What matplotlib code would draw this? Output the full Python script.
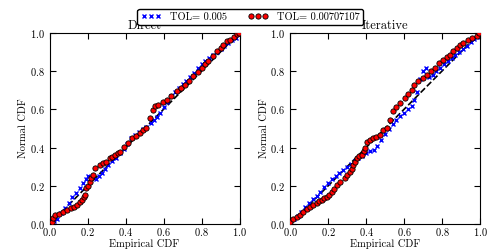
import matplotlib
matplotlib.use('Agg')
import matplotlib.pyplot as plt

# P-P plot data (empirical CDF vs normal CDF)
direct_red_x = [0.011, 0.02, 0.029, 0.05, 0.073, 0.09, 0.112, 0.13, 0.143, 0.16,
                0.17, 0.18, 0.187, 0.192, 0.2, 0.213, 0.22, 0.23, 0.24, 0.266,
                0.28, 0.297, 0.318, 0.33, 0.345, 0.36, 0.371, 0.392, 0.415, 0.433,
                0.455, 0.477, 0.494, 0.51, 0.529, 0.545, 0.555, 0.573, 0.595, 0.617,
                0.64, 0.669, 0.69, 0.713, 0.735, 0.757, 0.78, 0.801, 0.82, 0.836,
                0.86, 0.88, 0.9, 0.915, 0.935, 0.95, 0.97, 0.985, 0.995]
direct_red_y = [0.014, 0.035, 0.049, 0.055, 0.063, 0.072, 0.083, 0.092, 0.10, 0.115,
                0.127, 0.14, 0.153, 0.188, 0.20, 0.222, 0.24, 0.257, 0.292, 0.31,
                0.318, 0.327, 0.345, 0.352, 0.362, 0.37, 0.379, 0.405, 0.422, 0.448,
                0.46, 0.475, 0.49, 0.503, 0.555, 0.598, 0.616, 0.625, 0.64, 0.651,
                0.672, 0.695, 0.71, 0.729, 0.75, 0.773, 0.795, 0.816, 0.835, 0.851,
                0.878, 0.903, 0.92, 0.938, 0.955, 0.964, 0.98, 0.994, 0.998]

direct_blue_x = [0.01, 0.025, 0.04, 0.06, 0.08, 0.1, 0.12, 0.14, 0.16, 0.175,
                 0.19, 0.2, 0.245, 0.26, 0.275, 0.29, 0.31, 0.33, 0.35, 0.37,
                 0.39, 0.41, 0.43, 0.45, 0.47, 0.49, 0.51, 0.535, 0.55, 0.565,
                 0.58, 0.6, 0.62, 0.64, 0.66, 0.68, 0.7, 0.72, 0.74, 0.76,
                 0.78, 0.8, 0.82, 0.84, 0.86, 0.88, 0.9, 0.92, 0.94, 0.96,
                 0.98, 0.995]
direct_blue_y = [0.01, 0.015, 0.03, 0.06, 0.085, 0.11, 0.14, 0.165, 0.19, 0.215,
                 0.235, 0.25, 0.235, 0.25, 0.27, 0.29, 0.31, 0.33, 0.345, 0.37,
                 0.395, 0.42, 0.45, 0.465, 0.48, 0.495, 0.51, 0.53, 0.545, 0.56,
                 0.58, 0.61, 0.64, 0.67, 0.69, 0.71, 0.73, 0.75, 0.77, 0.79,
                 0.815, 0.835, 0.855, 0.87, 0.885, 0.9, 0.915, 0.93, 0.945, 0.96,
                 0.975, 0.995]

iter_red_x = [0.0, 0.015, 0.035, 0.05, 0.07, 0.09, 0.105, 0.12, 0.14, 0.155,
              0.167, 0.18, 0.193, 0.205, 0.219, 0.23, 0.246, 0.265, 0.289, 0.3,
              0.316, 0.325, 0.333, 0.342, 0.351, 0.365, 0.377, 0.39, 0.395, 0.404,
              0.42, 0.439, 0.455, 0.474, 0.491, 0.509, 0.525, 0.544, 0.56, 0.579,
              0.605, 0.62, 0.64, 0.655, 0.675, 0.7, 0.719, 0.74, 0.763, 0.785,
              0.807, 0.825, 0.842, 0.86, 0.877, 0.895, 0.912, 0.938, 0.96, 0.982,
              0.995]
iter_red_y = [0.014, 0.025, 0.04, 0.05, 0.063, 0.08, 0.092, 0.1, 0.11, 0.12,
              0.127, 0.135, 0.144, 0.155, 0.17, 0.185, 0.205, 0.22, 0.24, 0.258,
              0.275, 0.29, 0.31, 0.325, 0.345, 0.355, 0.362, 0.38, 0.397, 0.431,
              0.44, 0.449, 0.457, 0.466, 0.49, 0.503, 0.545, 0.59, 0.61, 0.633,
              0.659, 0.68, 0.703, 0.725, 0.747, 0.765, 0.781, 0.8, 0.816, 0.84,
              0.86, 0.873, 0.886, 0.905, 0.921, 0.935, 0.947, 0.964, 0.975, 0.982,
              0.999]

iter_blue_x = [0.005, 0.02, 0.04, 0.06, 0.08, 0.1, 0.12, 0.14, 0.16, 0.18,
               0.2, 0.22, 0.24, 0.26, 0.28, 0.3, 0.32, 0.34, 0.36, 0.38,
               0.4, 0.42, 0.44, 0.46, 0.48, 0.5, 0.52, 0.54, 0.56, 0.58,
               0.6, 0.62, 0.64, 0.655, 0.67, 0.685, 0.7, 0.715, 0.73, 0.75,
               0.77, 0.79, 0.81, 0.83, 0.85, 0.87, 0.89, 0.91, 0.93, 0.95,
               0.97, 0.985, 0.995]
iter_blue_y = [0.005, 0.025, 0.045, 0.065, 0.09, 0.11, 0.13, 0.15, 0.17, 0.195,
               0.215, 0.235, 0.25, 0.27, 0.285, 0.3, 0.315, 0.33, 0.345, 0.355,
               0.37, 0.38, 0.39, 0.41, 0.44, 0.47, 0.5, 0.525, 0.545, 0.565,
               0.58, 0.6, 0.62, 0.65, 0.69, 0.76, 0.8, 0.815, 0.77, 0.78,
               0.8, 0.815, 0.835, 0.85, 0.87, 0.885, 0.9, 0.915, 0.93, 0.95,
               0.965, 0.98, 0.995]

labels = ['TOL= 0.005', 'TOL= 0.00707107']
titles = ['Direct', 'Iterative']
ticks = [0.0, 0.2, 0.4, 0.6, 0.8, 1.0]

plt.rcParams['font.family'] = 'cmr10'
plt.rcParams['mathtext.fontset'] = 'cm'
plt.rcParams['axes.formatter.use_mathtext'] = True

fig = plt.figure(figsize=(5, 2.5), dpi=100)
axes = [fig.add_axes([0.099, 0.103, 0.38, 0.766]),
        fig.add_axes([0.580, 0.103, 0.38, 0.766])]

panels = [(direct_blue_x, direct_blue_y, direct_red_x, direct_red_y),
          (iter_blue_x, iter_blue_y, iter_red_x, iter_red_y)]

for ax, title, (bx, by, rx, ry) in zip(axes, titles, panels):
    ax.plot([0, 1], [0, 1], 'k--', lw=1.2, zorder=1)
    hb, = ax.plot(bx, by, 'x', color='b', ms=3.5, mew=1.0, zorder=2)
    hr, = ax.plot(rx, ry, 'o', color='r', mec='k', mew=0.6, ms=3.8, zorder=3)
    ax.set_xlim(0, 1)
    ax.set_ylim(0, 1)
    ax.set_xticks(ticks)
    ax.set_yticks(ticks)
    ax.tick_params(direction='in', top=True, right=True, length=4,
                   labelsize=7.5)
    ax.tick_params(axis='x', pad=1.5)
    ax.tick_params(axis='y', pad=3.5)
    ax.set_xlabel('Empirical CDF', fontsize=7.5, labelpad=0.5)
    ax.set_ylabel('Normal CDF', fontsize=7.5, labelpad=1)
    ax.set_title(title, fontsize=9, pad=2.5)

fig.legend([hb, hr], labels, loc='upper center', bbox_to_anchor=(0.5, 0.985),
           ncol=2, numpoints=3, fontsize=7.5, fancybox=True, framealpha=1,
           edgecolor='k', borderpad=0.3, columnspacing=2.0, handletextpad=0.8)

fig.savefig('out.png', dpi=100)
